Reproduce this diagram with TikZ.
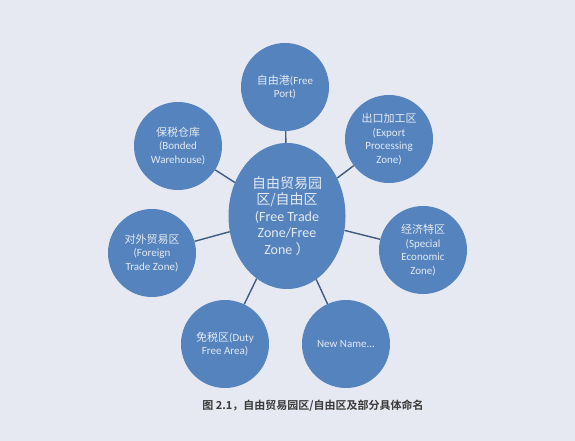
\documentclass[tikz,border=0pt]{standalone}
\usepackage{fontspec}
\setmainfont{Carlito}
\newfontfamily\cjk{Noto Sans CJK SC}
\newfontfamily\cjkb{Noto Sans CJK SC Bold}
\usetikzlibrary{shapes.geometric}
\definecolor{bg}{HTML}{E6E9F1}
\definecolor{disc}{HTML}{5583BD}
\definecolor{link}{HTML}{3E5B82}
\definecolor{txt}{HTML}{E4EAF3}
\definecolor{cap}{HTML}{3A3A3A}
\begin{document}
\begin{tikzpicture}[x=1pt,y=-1pt,
  zone/.style={circle,fill=disc,minimum size=88pt,inner sep=0pt,text=txt,align=center,
    font=\fontsize{11}{13.5}\selectfont},
  hub/.style={ellipse,fill=disc,minimum width=117pt,minimum height=146pt,inner sep=0pt,
    text=txt,align=center,font=\fontsize{14}{16.5}\selectfont},
  conn/.style={draw=link,line width=1.4pt}]
\fill[bg] (0,0) rectangle (575,441);
\useasboundingbox (0,0) rectangle (575,441);
\node[hub] (c) at (287,216) {{\cjk 自由贸易园}\\{\cjk 区/自由区}\\(Free Trade\\Zone/Free\\Zone {\cjk ）}};
\node[zone] (fp) at (285,87) {{\cjk 自由港}(Free\\Port)};
\node[zone] (bw) at (178,146) {{\cjk 保税仓库}\\(Bonded\\Warehouse)};
\node[zone] (ep) at (389,139) {{\cjk 出口加工区}\\(Export\\Processing\\Zone)};
\node[zone] (se) at (423,250) {{\cjk 经济特区}\\(Special\\Economic\\Zone)};
\node[zone] (ft) at (152,253) {{\cjk 对外贸易区}\\(Foreign\\Trade Zone)};
\node[zone] (df) at (225,344) {{\cjk 免税区}(Duty\\Free Area)};
\node[zone] (nn) at (346,344) {New Name...};
\foreach \t in {fp,bw,ep,se,ft,df,nn} \draw[conn] (c) -- (\t);
\node[text=cap,font=\cjkb\fontsize{11}{12}\selectfont] (caption) at (313,406) {图 2.1，自由贸易园区/自由区及部分具体命名};
\end{tikzpicture}
\end{document}
